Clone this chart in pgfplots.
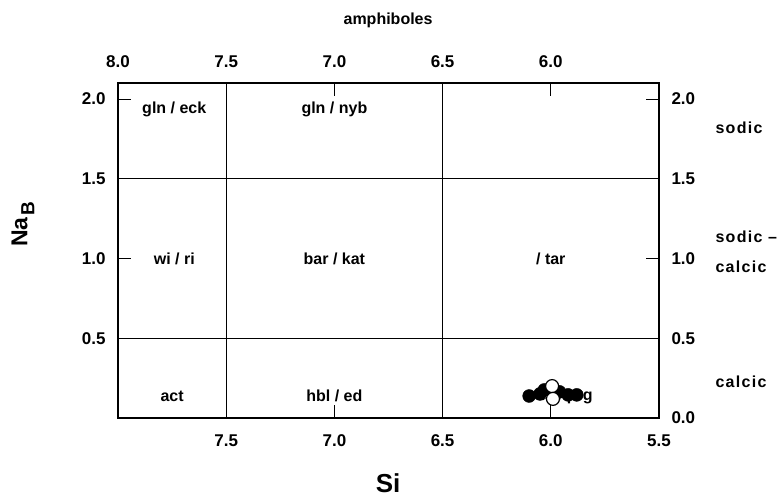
\documentclass[border=0pt]{standalone}
\usepackage{fontspec}
\setmainfont{Liberation Sans}
\newfontfamily\spaced[LetterSpace=8]{Liberation Sans}
\usepackage{pgfplots}
\pgfplotsset{compat=1.18}
\begin{document}
\begin{tikzpicture}
\pgfplotsset{common/.style={
  width=541pt, height=335pt, scale only axis,
  x dir=reverse, xmin=5.5, xmax=8, ymin=0, ymax=2.1,
  xtick={5.5,6,6.5,7,7.5,8}, ytick={0,0.5,1,1.5,2},
  tick label style={font=\bfseries\fontsize{17}{17}\selectfont},
  clip=false,
}}
\begin{axis}[common,
  axis line style={line width=2.6pt},
  tick style={black, line width=0.8pt},
  major tick length=13pt, tick align=inside,
  xticklabel pos=lower, yticklabel pos=left,
  xticklabels={5.5,6.0,6.5,7.0,7.5,{}},
  yticklabels={{},0.5,1.0,1.5,2.0},
  xticklabel style={yshift=-13pt},
  yticklabel style={xshift=-9pt},
]
\addplot[black, line width=0.8pt] coordinates {(7.5,0) (7.5,2.1)};
\addplot[black, line width=0.8pt] coordinates {(6.5,0) (6.5,2.1)};
\addplot[black, line width=0.8pt] coordinates {(8,0.5) (5.5,0.5)};
\addplot[black, line width=0.8pt] coordinates {(8,1.5) (5.5,1.5)};
\begin{scope}[font=\bfseries\fontsize{16}{16}\selectfont]
\node at (axis cs:7.74,1.937) {gln / eck};
\node at (axis cs:7.0,1.937) {gln / nyb};
\node at (axis cs:7.74,1.0) {wi / ri};
\node at (axis cs:7.0,1.0) {bar / kat};
\node at (axis cs:6.0,1.0) {/ tar};
\node at (axis cs:7.75,0.138) {act};
\node at (axis cs:7.0,0.138) {hbl / ed};
\node[anchor=east] at (axis cs:5.79,0.138) {ts / prg};
\end{scope}
\addplot[only marks, mark=*, mark size=6.5pt, black] coordinates {
(6.10,0.138) (6.05,0.151) (6.03,0.176) (5.96,0.164) (5.92,0.145) (5.88,0.145)
};
\addplot[only marks, mark=*, mark size=6.5pt, draw=black, fill=white, line width=1.2pt] coordinates {
(5.994,0.20) (5.99,0.12)
};
\begin{scope}[font=\spaced\bfseries\fontsize{16}{30}\selectfont]
\node[anchor=west] at (axis cs:5.255,1.818) {sodic};
\node[anchor=west, align=left] at (axis cs:5.255,1.044) {sodic –\\calcic};
\node[anchor=west] at (axis cs:5.255,0.226) {calcic};
\end{scope}
\node[font=\bfseries\fontsize{16}{16}\selectfont] at (axis cs:6.752,2.49) {amphiboles};
\node[font=\bfseries\fontsize{26}{26}\selectfont] at (axis cs:6.752,-0.41) {Si};
\node[rotate=90, font=\bfseries\fontsize{23}{23}\selectfont] at (axis cs:8.439,1.214) {Na\hspace{2pt}\raisebox{-0.3em}{\fontsize{19}{19}\selectfont B}};
\coordinate (LL) at (axis cs:8,0);
\end{axis}
\begin{axis}[common,
  axis line style={draw=none},
  major tick length=0pt,
  xticklabel pos=upper, yticklabel pos=right,
  xticklabels={{},6.0,6.5,7.0,7.5,8.0},
  yticklabels={0.0,0.5,1.0,1.5,2.0},
  xticklabel style={yshift=11.5pt},
  yticklabel style={xshift=9pt},
]
\addplot[draw=none] coordinates {(6,1)};
\end{axis}
\pgfresetboundingbox
\path[use as bounding box] ([shift={(-118pt,-80pt)}]LL) rectangle ([shift={(664pt,418pt)}]LL);
\end{tikzpicture}
\end{document}
